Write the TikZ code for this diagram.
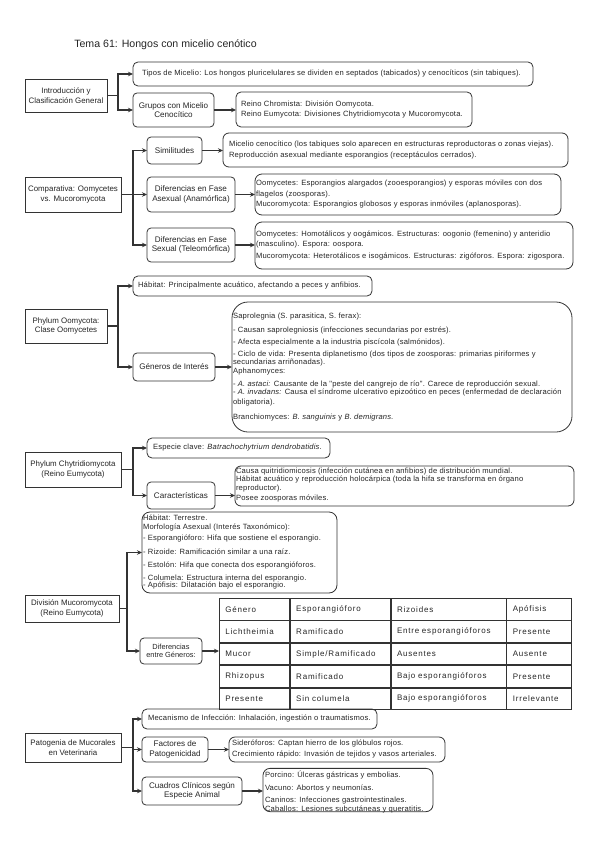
\documentclass[tikz,border=0pt]{standalone}
\usepackage{fontspec}
\setmainfont{Liberation Sans}
\newfontfamily\tblfont[LetterSpace=10]{Liberation Sans}
\newfontfamily\bodyfont[LetterSpace=2.5]{Liberation Sans}
\usetikzlibrary{arrows.meta,matrix}
\definecolor{ink}{HTML}{262626}
\definecolor{edge}{HTML}{333333}
\newcommand{\boxlines}[2]{\makebox[#1][l]{\begin{tabular}{@{}l@{}}#2\end{tabular}}}
\begin{document}
\begin{tikzpicture}[x=1pt,y=-1pt,
  every node/.style={text=ink},
  frame/.style={draw=edge, line width=0.8pt, inner sep=0pt, outer sep=0pt},
  lbox/.style={frame, align=center, font=\fontsize{7.9}{9.6}\selectfont},
  mbox/.style={frame, rounded corners=4pt, align=center, font=\fontsize{8.1}{9.6}\selectfont},
  tbox/.style={frame, rounded corners=5pt, font=\bodyfont\fontsize{7.6}{9}\selectfont},
  conn/.style={draw=edge, line width=1.1pt, -{Stealth[length=5pt,width=4.5pt]}},
  wire/.style={draw=edge, line width=1.1pt},
]
\fill[white] (0,0) rectangle (599,848);
\useasboundingbox (0,0) rectangle (599,848);

% Title
\node[font=\fontsize{10.6}{12}\selectfont] (title) at (165.5,45) {Tema 61: Hongos con micelio cenótico};

% Section 1
\node[lbox, minimum width=82pt, minimum height=33pt] (intro) at (66,95.5) {Introducción y\\Clasificación General};
\node[tbox, minimum width=400pt, minimum height=24pt, inner xsep=9pt] (tipos) at (333,74) {\boxlines{382pt}{Tipos de Micelio: Los hongos pluricelulares se dividen en septados (tabicados) y cenocíticos (sin tabiques).}};
\node[mbox, minimum width=81pt, minimum height=34pt] (grupos) at (173.5,110) {Grupos con Micelio\\Cenocítico};
\node[tbox, minimum width=236pt, minimum height=35pt, inner xsep=5pt] (reino) at (354,109.5) {\boxlines{226pt}{Reino Chromista: División Oomycota.\\[1.3pt]Reino Eumycota: Divisiones Chytridiomycota y Mucoromycota.}};
\coordinate (j1) at (118,95.5);
\draw[wire] (intro.east) -- (j1);
\draw[conn] (j1) |- (tipos.west);
\draw[conn] (j1) |- (grupos.west);
\draw[conn] (grupos.east) -- (grupos.east -| reino.west);

% Section 2
\node[lbox, minimum width=96pt, minimum height=35pt] (comp) at (73,194.5) {Comparativa: Oomycetes\\vs. Mucoromycota};
\coordinate (j2) at (133,194.5);
\node[mbox, minimum width=55pt, minimum height=27pt] (simil) at (174.5,150.5) {Similitudes};
\node[tbox, rounded corners=6pt, minimum width=345pt, minimum height=34pt, inner xsep=6pt] (simtxt) at (395.5,150) {\boxlines{333pt}{Micelio cenocítico (los tabiques solo aparecen en estructuras reproductoras o zonas viejas).\\[1.7pt]Reproducción asexual mediante esporangios (receptáculos cerrados).}};
\node[mbox, minimum width=88pt, minimum height=35pt] (asex) at (191,194.5) {Diferencias en Fase\\Asexual (Anamórfica)};
\node[tbox, rounded corners=7pt, minimum width=306pt, minimum height=41pt, inner xsep=1pt] (asextxt) at (408,194.5) {\boxlines{304pt}{Oomycetes: Esporangios alargados (zooesporangios) y esporas móviles con dos\\[2pt]flagelos (zoosporas).\\[1pt]Mucoromycota: Esporangios globosos y esporas inmóviles (aplanosporas).}};
\node[mbox, minimum width=88pt, minimum height=34pt] (sex) at (191,245) {Diferencias en Fase\\Sexual (Teleomórfica)};
\node[tbox, rounded corners=7pt, minimum width=318pt, minimum height=47pt, inner xsep=1pt] (sextxt) at (414,245.5) {\boxlines{316pt}{Oomycetes: Homotálicos y oogámicos. Estructuras: oogonio (femenino) y anteridio\\[1pt](masculino). Espora: oospora.\\[2.7pt]Mucoromycota: Heterotálicos e isogámicos. Estructuras: zigóforos. Espora: zigospora.}};
\draw[wire] (comp.east) -- (j2);
\draw[conn] (j2) |- (simil.west);
\draw[conn] (j2) |- (asex.west);
\draw[conn] (j2) |- (sex.west);
\draw[conn] (simil.east) -- (simil.east -| simtxt.west);
\draw[conn] (asex.east) -- (asex.east -| asextxt.west);
\draw[conn] (sex.east) -- (sex.east -| sextxt.west);

% Section 3
\node[lbox, minimum width=82pt, minimum height=34pt] (oomy) at (66,326) {Phylum Oomycota:\\Clase Oomycetes};
\coordinate (j3) at (118,326);
\node[tbox, minimum width=239pt, minimum height=20pt, inner xsep=5pt] (hab1) at (252.5,286) {\boxlines{229pt}{Hábitat: Principalmente acuático, afectando a peces y anfibios.}};
\node[mbox, minimum width=82pt, minimum height=28pt] (gen) at (174,367) {Géneros de Interés};
\node[tbox, rounded corners=16pt, minimum width=340pt, minimum height=130pt, inner xsep=1pt] (gentxt) at (402,367) {\boxlines{338pt}{Saprolegnia (S. parasitica, S. ferax):\\[5pt]
- Causan saprolegniosis (infecciones secundarias por estrés).\\[3pt]
- Afecta especialmente a la industria piscícola (salmónidos).\\[3pt]
- Ciclo de vida: Presenta diplanetismo (dos tipos de zoosporas: primarias piriformes y\\[-1pt]
secundarias arriñonadas).\\
Aphanomyces:\\[4pt]
- \textit{A. astaci:} Causante de la "peste del cangrejo de río". Carece de reproducción sexual.\\[-1pt]
- \textit{A. invadans:} Causa el síndrome ulcerativo epizoótico en peces (enfermedad de declaración\\[1pt]
obligatoria).\\[6pt]
Branchiomyces: \textit{B. sanguinis} y \textit{B. demigrans}.}};
\draw[wire] (oomy.east) -- (j3);
\draw[conn] (j3) |- (hab1.west);
\draw[conn] (j3) |- (gen.west);
\draw[conn] (gen.east) -- (gen.east -| gentxt.west);

% Section 4
\node[lbox, minimum width=96pt, minimum height=35pt] (chy) at (73,469.5) {Phylum Chytridiomycota\\(Reino Eumycota)};
\coordinate (j4) at (133,469.5);
\node[tbox, minimum width=183pt, minimum height=20pt, inner xsep=6pt] (esp) at (238.5,448) {\boxlines{171pt}{Especie clave: \textit{Batrachochytrium dendrobatidis}.}};
\node[mbox, minimum width=68pt, minimum height=27pt] (car) at (181,495.5) {Características};
\node[tbox, rounded corners=6pt, minimum width=339pt, minimum height=40pt, inner xsep=1pt] (cartxt) at (404.5,486) {\raisebox{1.3pt}[\height][\depth]{\boxlines{337pt}{Causa quitridiomicosis (infección cutánea en anfibios) de distribución mundial.\\[-0.7pt]Hábitat acuático y reproducción holocárpica (toda la hifa se transforma en órgano\\[0.3pt]reproductor).\\[0.4pt]Posee zoosporas móviles.}}};
\draw[wire] (chy.east) -- (j4);
\draw[conn] (j4) |- (esp.west);
\draw[conn] (j4) |- (car.west);
\draw[conn] (car.east) -- (car.east -| cartxt.west);

% Section 5
\node[lbox, minimum width=94pt, minimum height=27pt] (muc) at (72,608.5) {División Mucoromycota\\(Reino Eumycota)};
\coordinate (j5) at (127,608.5);
\node[tbox, rounded corners=8pt, minimum width=195pt, minimum height=81pt, inner xsep=1pt] (hab2) at (239.5,552.5) {\boxlines{193pt}{Hábitat: Terrestre.\\
Morfología Asexual (Interés Taxonómico):\\[1.3pt]
- Esporangióforo: Hifa que sostiene el esporangio.\\[5pt]
- Rizoide: Ramificación similar a una raíz.\\[4.4pt]
- Estolón: Hifa que conecta dos esporangióforos.\\[4.3pt]
- Columela: Estructura interna del esporangio.\\[-2.3pt]
- Apófisis: Dilatación bajo el esporangio.}};
\node[mbox, minimum width=62pt, minimum height=26pt, font=\fontsize{7.4}{8.6}\selectfont] (dif) at (171,651) {Diferencias\\entre Géneros:};
\matrix (tbl) [matrix of nodes, anchor=north west, inner sep=0pt, outer sep=0pt, column sep=0pt, row sep=0pt,
  nodes={draw=edge, line width=0.8pt, minimum height=21.6pt, inner xsep=6pt, inner ysep=0pt, outer sep=0pt, align=left, font=\tblfont\fontsize{8}{9}\selectfont, anchor=center},
  column 1/.style={nodes={text width=58pt}},
  column 2/.style={nodes={text width=88pt}},
  column 3/.style={nodes={text width=103pt}},
  column 4/.style={nodes={text width=53pt}}] at (219,598) {
Género & Esporangióforo & Rizoides & Apófisis \\
Lichtheimia & Ramificado & Entre esporangióforos & Presente \\
Mucor & Simple/Ramificado & Ausentes & Ausente \\
Rhizopus & Ramificado & Bajo esporangióforos & Presente \\
Presente & Sin columela & Bajo esporangióforos & Irrelevante \\
};
\draw[wire] (muc.east) -- (j5);
\draw[conn] (j5) |- (hab2.west);
\draw[conn] (j5) |- (dif.west);
\draw[conn] (dif.east) -- (dif.east -| tbl.west);

% Section 6
\node[lbox, minimum width=96pt, minimum height=29pt] (pat) at (73,747.5) {Patogenia de Mucorales\\en Veterinaria};
\coordinate (j6) at (133,747.5);
\node[tbox, minimum width=235pt, minimum height=20pt, inner xsep=6pt] (mec) at (259.5,719) {\boxlines{223pt}{Mecanismo de Infección: Inhalación, ingestión o traumatismos.}};
\node[mbox, minimum width=66pt, minimum height=25pt] (fac) at (175,749.5) {Factores de\\Patogenicidad};
\node[tbox, rounded corners=6pt, minimum width=216pt, minimum height=25pt, inner xsep=3pt] (factxt) at (337,749.5) {\boxlines{210pt}{Sideróforos: Captan hierro de los glóbulos rojos.\\[2pt]Crecimiento rápido: Invasión de tejidos y vasos arteriales.}};
\node[mbox, minimum width=100pt, minimum height=28pt] (cua) at (192,791) {Cuadros Clínicos según\\Especie Animal};
\node[tbox, rounded corners=7pt, minimum width=170pt, minimum height=40pt, inner xsep=2pt] (cuatxt) at (348,790) {\raisebox{-2.7pt}[\height][\depth]{\boxlines{166pt}{Porcino: Úlceras gástricas y embolias.\\[4pt]Vacuno: Abortos y neumonías.\\[3pt]Caninos: Infecciones gastrointestinales.\\Caballos: Lesiones subcutáneas y queratitis.}}};
\draw[wire] (pat.east) -- (j6);
\draw[conn] (j6) |- (mec.west);
\draw[conn] (j6) |- (fac.west);
\draw[conn] (j6) |- (cua.west);
\draw[conn] (fac.east) -- (fac.east -| factxt.west);
\draw[conn] (cua.east) -- (cua.east -| cuatxt.west);
\end{tikzpicture}
\end{document}
